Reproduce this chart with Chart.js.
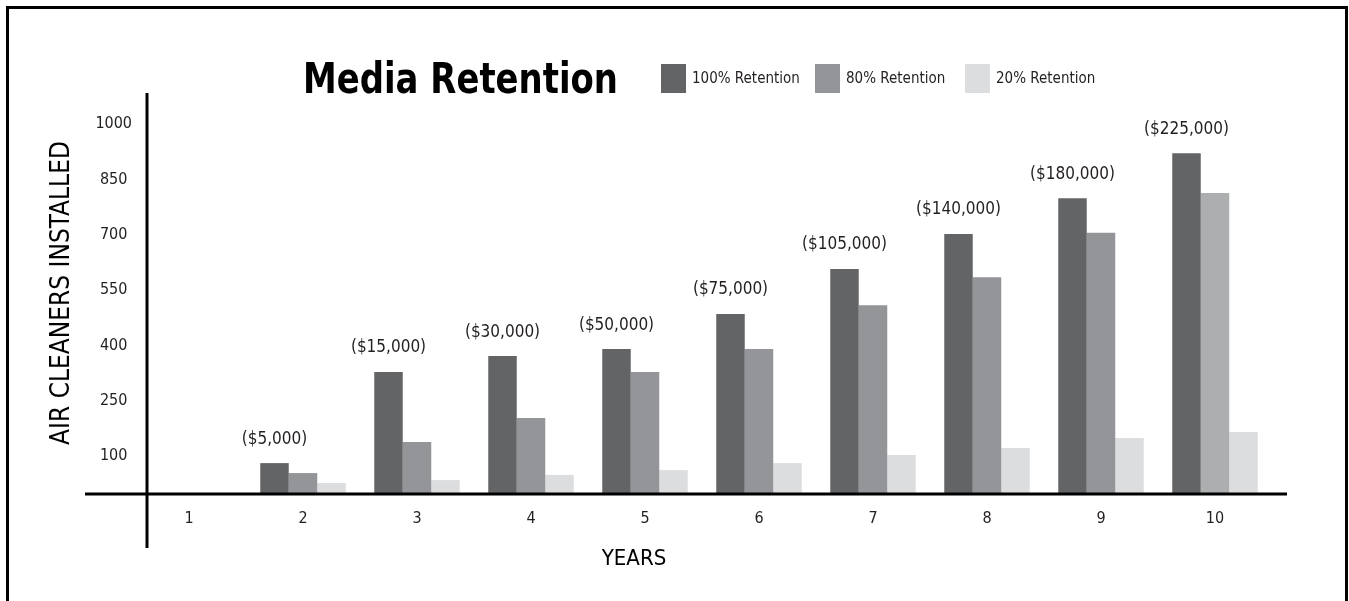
<!DOCTYPE html>
<html>
<head>
<meta charset="utf-8">
<script src="https://cdn.jsdelivr.net/npm/chart.js@4.4.1/dist/chart.umd.min.js"></script>
<style>
  html, body { margin: 0; padding: 0; background: #fff; overflow: hidden; }
  #wrap { position: relative; width: 1349px; height: 601px; overflow: hidden; }
  #frame {
    position: absolute; left: 6px; top: 6px; width: 1336px; height: 900px;
    border: 3px solid #000; pointer-events: none;
  }
</style>
</head>
<body>
<div id="wrap">
  <canvas id="chart" width="1349" height="601"></canvas>
  <div id="frame"></div>
</div>
<script>
const years = ["1", "2", "3", "4", "5", "6", "7", "8", "9", "10"];
const retention100 = [0, 81, 328, 371, 390, 485, 607, 702, 799, 921];
const retention80 = [0, 54, 138, 203, 328, 390, 509, 585, 705, 813];
const retention20 = [0, 27, 35, 49, 62, 81, 103, 122, 149, 165];
const costLabels = ["", "($5,000)", "($15,000)", "($30,000)", "($50,000)", "($75,000)",
  "($105,000)", "($140,000)", "($180,000)", "($225,000)"];
const yTicks = [100, 250, 400, 550, 700, 850, 1000];

const FONT = "'Liberation Sans Narrow', 'DejaVu Sans Condensed', 'Noto Sans', sans-serif";
const INK = "#231f20";
const dark = "#636466";
const mid = "#939598";
const light = "#dcdddf";
const midColors = years.map((y, i) => (i === years.length - 1 ? "#adaeb0" : mid));

// title, legend, axis lines, dollar labels
const decor = {
  id: "decor",
  afterDraw(c) {
    const ctx = c.ctx;
    const area = c.chartArea;
    const ys = c.scales.y;
    const base = ys.getPixelForValue(0);
    ctx.save();

    // axis lines
    ctx.strokeStyle = "#000";
    ctx.lineWidth = 3;
    ctx.beginPath();
    ctx.moveTo(area.left - 47, base + 1);
    ctx.lineTo(area.right + 15, base + 1);
    ctx.moveTo(area.left + 15, area.top);
    ctx.lineTo(area.left + 15, base + 55);
    ctx.stroke();

    // cost labels over the 100% bars
    ctx.fillStyle = INK;
    ctx.font = "17px " + FONT;
    ctx.textAlign = "center";
    ctx.textBaseline = "middle";
    const bars = c.getDatasetMeta(0).data;
    costLabels.forEach((t, i) => {
      if (!t) return;
      ctx.fillText(t, bars[i].x, bars[i].y - 24);
    });

    // title, squeezed a bit to look condensed
    ctx.fillStyle = "#000";
    ctx.font = "bold 43px " + FONT;
    ctx.textAlign = "left";
    ctx.textBaseline = "alphabetic";
    const tw = ctx.measureText("Media Retention").width;
    const sx = Math.min(1, 315 / tw);
    ctx.save();
    ctx.translate(303, 93);
    ctx.scale(sx, 1);
    ctx.fillText("Media Retention", 0, 0);
    ctx.restore();

    // legend
    const lx = [661, 815, 965];
    ctx.font = "15px " + FONT;
    ctx.textBaseline = "middle";
    c.data.datasets.forEach((ds, i) => {
      ctx.fillStyle = i === 1 ? mid : ds.backgroundColor;
      ctx.fillRect(lx[i], 64, 25, 29);
      ctx.fillStyle = INK;
      ctx.fillText(ds.label, lx[i] + 31, 79);
    });

    // x axis title
    ctx.fillStyle = "#000";
    ctx.font = "22px " + FONT;
    ctx.textAlign = "center";
    ctx.fillText("YEARS", 634, 559);

    ctx.restore();
  }
};

new Chart(document.getElementById("chart"), {
  type: "bar",
  data: {
    labels: years,
    datasets: [
      { label: "100% Retention", data: retention100, backgroundColor: dark },
      { label: "80% Retention", data: retention80, backgroundColor: midColors },
      { label: "20% Retention", data: retention20, backgroundColor: light }
    ]
  },
  options: {
    responsive: false,
    animation: false,
    devicePixelRatio: 1,
    layout: { padding: { top: 93, right: 77, left: 0, bottom: 0 } },
    datasets: { bar: { barPercentage: 1, categoryPercentage: 0.75, borderWidth: 0 } },
    plugins: { legend: { display: false }, tooltip: { enabled: false } },
    scales: {
      x: {
        offset: true,
        grid: { display: false, drawTicks: false },
        border: { display: false },
        ticks: { color: INK, font: { family: FONT, size: 16 }, padding: 16 },
        afterFit: (s) => { s.height = 108; }
      },
      y: {
        min: 0,
        max: 1084,
        afterBuildTicks: (s) => { s.ticks = yTicks.map((v) => ({ value: v })); },
        grid: { display: false, drawTicks: false },
        border: { display: false },
        ticks: {
          color: INK,
          font: { family: FONT, size: 16 },
          padding: 0,
          crossAlign: "center",
          callback: (v) => String(v)
        },
        title: {
          display: true,
          text: "AIR CLEANERS INSTALLED",
          color: "#000",
          font: { family: FONT, size: 26 },
          padding: { top: 47, bottom: 0 }
        },
        afterFit: (s) => { s.width = 132; }
      }
    }
  },
  plugins: [decor]
});
</script>
</body>
</html>
